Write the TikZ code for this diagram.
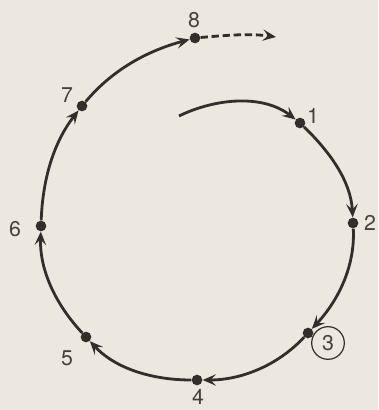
\documentclass[tikz,border=0pt]{standalone}
\usepackage{fontspec}
\setsansfont{TeX Gyre Heros}
\usepackage{tikz}
\usetikzlibrary{arrows.meta,positioning}
\definecolor{paper}{HTML}{ECE8DF}
\definecolor{ink}{HTML}{332D2C}
\definecolor{inklight}{HTML}{463F3E}

\begin{document}
\begin{tikzpicture}[
    x=0.75pt,y=-0.75pt,
    pt/.style      = {circle, fill=ink, inner sep=0pt, minimum size=8pt},
    lbl/.style     = {font=\sffamily\fontsize{16}{18}\selectfont, text=inklight, inner sep=0pt},
    ring/.style    = {lbl, circle, draw=ink, line width=0.9pt, minimum size=24.5pt},
    flux/.style    = {ink, line width=2.1pt, looseness=0.9,
                      -{Stealth[length=10pt,width=8.5pt,inset=4pt]}},
    suite/.style   = {flux, dash pattern=on 5.5pt off 2.8pt},
  ]

  % -- fond ------------------------------------------------------------------
  \fill[paper] (0,0) rectangle (378,410);
  \useasboundingbox (0,0) rectangle (378,410);

  % -- etapes ----------------------------------------------------------------
  \coordinate (dep) at (179,116);
  \node[pt] (p1) at (300,123) {};
  \node[pt] (p2) at (353,223) {};
  \node[pt] (p3) at (308,333) {};
  \node[pt] (p4) at (197,380) {};
  \node[pt] (p5) at ( 86,337) {};
  \node[pt] (p6) at ( 41,226) {};
  \node[pt] (p7) at ( 82,106) {};
  \node[pt] (p8) at (195, 38) {};
  \coordinate (fin) at (276,37);

  % -- numeros ---------------------------------------------------------------
  \node[lbl]  (n1) at (313,116) {1};
  \node[lbl]  (n2) at (370,223) {2};
  \node[ring] (n3) at (328,343) {3};
  \node[lbl]  (n4) at (198,397) {4};
  \node[lbl]  (n5) at ( 67,358) {5};
  \node[lbl]  (n6) at ( 15,229) {6};
  \node[lbl]  (n7) at ( 67, 95) {7};
  \node[lbl]  (n8) at (194, 20) {8};

  % -- spirale ---------------------------------------------------------------
  \draw[flux] (dep) to[out=26,in=142]  (p1);
  \draw[flux] (p1)  to[out=-44,in=93]  (p2);
  \draw[flux] (p2)  to[out=-87,in=47]  (p3);
  \draw[flux] (p3)  to[out=-133,in=0]  (p4);
  \draw[flux] (p4)  to[out=180,in=-47] (p5);
  \draw[flux] (p5)  to[out=133,in=-92] (p6);
  \draw[flux] (p6)  to[out=88,in=-128] (p7);
  \draw[flux] (p7)  to[out=50,in=195]  (p8);
  \draw[suite] (p8) to[out=5,in=172]   (fin);

\end{tikzpicture}
\end{document}
